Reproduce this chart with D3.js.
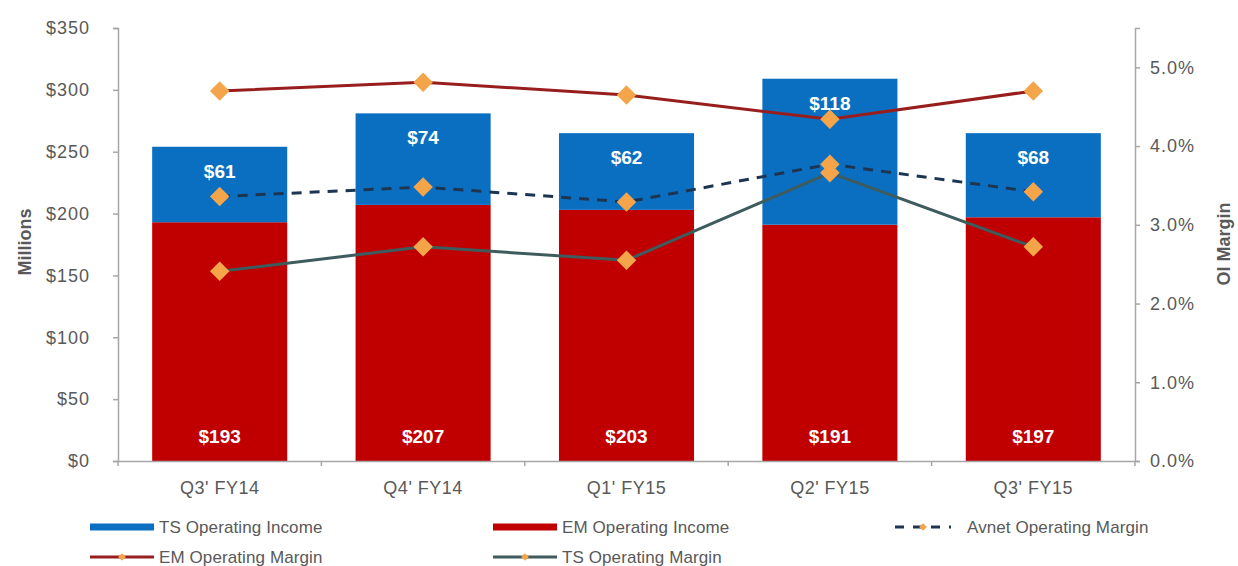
<!DOCTYPE html>
<html>
<head>
<meta charset="utf-8">
<script src="https://cdn.jsdelivr.net/npm/d3@7"></script>
<style>
body { margin: 0; background: #fff; }
text { font-family: Arial, "Liberation Sans", sans-serif; }
</style>
</head>
<body>
<div id="chart"></div>
<script>
var quarters = ["Q3' FY14", "Q4' FY14", "Q1' FY15", "Q2' FY15", "Q3' FY15"]
var emIncome = [193, 207, 203, 191, 197]
var tsIncome = [61, 74, 62, 118, 68]
var emMargin = [0.0470, 0.0481, 0.0465, 0.0434, 0.0470]
var avnetMargin = [0.0336, 0.0348, 0.0329, 0.0377, 0.0342]
var tsMargin = [0.0241, 0.0272, 0.0255, 0.0366, 0.0272]
var leftTicks = [0, 50, 100, 150, 200, 250, 300, 350]
var rightTicks = [0, 0.01, 0.02, 0.03, 0.04, 0.05]

var width = 1238, height = 566
var grey = "#595959"
var orange = "#f5a549"

var svg = d3.select("#chart").append("svg")
	.attr("width", width)
	.attr("height", height)

var x = d3.scaleBand()
	.domain(quarters)
	.range([118, 1135])
	.paddingInner(0.336)
	.paddingOuter(0.168)

var y = d3.scaleLinear().domain([0, 350]).range([461, 28])
var y2 = d3.scaleLinear().domain([0, 0.055]).range([461, 28])

// bars
var stacks = quarters.map(function(q, i){ return {q: q, em: emIncome[i], ts: tsIncome[i]} })

svg.append("g").selectAll("rect")
	.data(stacks).enter().append("rect")
	.attr("x", function(d){ return x(d.q) })
	.attr("width", x.bandwidth())
	.attr("y", function(d){ return y(d.em) })
	.attr("height", function(d){ return y(0) - y(d.em) })
	.attr("fill", "#c00000")

svg.append("g").selectAll("rect")
	.data(stacks).enter().append("rect")
	.attr("x", function(d){ return x(d.q) })
	.attr("width", x.bandwidth())
	.attr("y", function(d){ return y(d.em + d.ts) })
	.attr("height", function(d){ return y(d.em) - y(d.em + d.ts) })
	.attr("fill", "#0b6fc1")

// axes
var axisColor = "#a6a6a6"
var gl = svg.append("g").attr("transform", "translate(118,0)")
	.call(d3.axisLeft(y).tickValues(leftTicks).tickSize(5).tickPadding(23)
		.tickFormat(function(d){ return "$" + d }))
var gr = svg.append("g").attr("transform", "translate(1135,0)")
	.call(d3.axisRight(y2).tickValues(rightTicks).tickSize(5).tickPadding(10)
		.tickFormat(d3.format(".1%")))
var gb = svg.append("g").attr("transform", "translate(0,461)")
	.call(d3.axisBottom(x).tickSize(0).tickPadding(20))

gb.selectAll(".tick").append("line")
	.attr("x1", -x.step() / 2).attr("x2", -x.step() / 2)
	.attr("y1", 0).attr("y2", 5)
gb.append("line").attr("x1", 1135).attr("x2", 1135).attr("y1", 0).attr("y2", 5)

svg.selectAll(".domain").attr("stroke", axisColor).attr("stroke-width", 1.5)
svg.selectAll(".tick line").attr("stroke", axisColor).attr("stroke-width", 1.5)
gb.selectAll("line").attr("stroke", axisColor).attr("stroke-width", 1.5)
svg.selectAll(".tick text")
	.attr("fill", grey)
	.style("font-size", "18px")
	.style("letter-spacing", "1px")
	.style("font-family", "Arial, 'Liberation Sans', sans-serif")
gb.selectAll(".tick text").style("letter-spacing", "0.5px")

svg.append("text")
	.attr("transform", "translate(31,242) rotate(-90)")
	.attr("text-anchor", "middle")
	.attr("fill", grey)
	.style("font-size", "18px")
	.style("font-weight", "bold")
	.text("Millions")

svg.append("text")
	.attr("transform", "translate(1230,244) rotate(-90)")
	.attr("text-anchor", "middle")
	.attr("fill", grey)
	.style("font-size", "18px")
	.style("font-weight", "bold")
	.text("OI Margin")

// margin lines
var lines = [
	{name: "EM Operating Margin", values: emMargin, color: "#981e1e", dash: null},
	{name: "TS Operating Margin", values: tsMargin, color: "#3e5b5d", dash: null},
	{name: "Avnet Operating Margin", values: avnetMargin, color: "#1d3551", dash: "10,8"}
]

var line = d3.line()
	.x(function(d, i){ return x(quarters[i]) + x.bandwidth() / 2 })
	.y(function(d){ return y2(d) })

var diamond = d3.symbol().type(d3.symbolSquare).size(190)

lines.forEach(function(s){
	svg.append("path")
		.attr("d", line(s.values))
		.attr("fill", "none")
		.attr("stroke", s.color)
		.attr("stroke-width", 3)
		.attr("stroke-dasharray", s.dash)
})

lines.forEach(function(s){
	svg.append("g").selectAll("path")
		.data(s.values).enter().append("path")
		.attr("d", diamond)
		.attr("transform", function(d, i){
			return "translate(" + (x(quarters[i]) + x.bandwidth() / 2) + "," + y2(d) + ") rotate(45)"
		})
		.attr("fill", orange)
})

// bar labels
svg.append("g").selectAll("text")
	.data(stacks).enter().append("text")
	.attr("x", function(d){ return x(d.q) + x.bandwidth() / 2 })
	.attr("y", function(d){ return y(d.em + d.ts) + 31 })
	.attr("text-anchor", "middle")
	.attr("fill", "#fff")
	.style("font-size", "19px")
	.style("font-weight", "bold")
	.text(function(d){ return "$" + d.ts })

svg.append("g").selectAll("text")
	.data(stacks).enter().append("text")
	.attr("x", function(d){ return x(d.q) + x.bandwidth() / 2 })
	.attr("y", y(0) - 18)
	.attr("text-anchor", "middle")
	.attr("fill", "#fff")
	.style("font-size", "19px")
	.style("font-weight", "bold")
	.text(function(d){ return "$" + d.em })

// legend
var legendItems = [
	{name: "TS Operating Income", kind: "bar", color: "#0b6fc1", x: 90, y: 527},
	{name: "EM Operating Income", kind: "bar", color: "#c00000", x: 493, y: 527},
	{name: "Avnet Operating Margin", kind: "dash", color: "#1d3551", x: 895, y: 527},
	{name: "EM Operating Margin", kind: "line", color: "#981e1e", x: 90, y: 557},
	{name: "TS Operating Margin", kind: "line", color: "#3e5b5d", x: 493, y: 557}
]

var lg = svg.append("g").selectAll("g")
	.data(legendItems).enter().append("g")
	.attr("transform", function(d){ return "translate(" + d.x + "," + d.y + ")" })

lg.filter(function(d){ return d.kind == "bar" }).append("rect")
	.attr("x", 0).attr("y", -3.5).attr("width", 64).attr("height", 7)
	.attr("fill", function(d){ return d.color })

lg.filter(function(d){ return d.kind == "line" }).append("line")
	.attr("x1", 0).attr("x2", 64)
	.attr("stroke", function(d){ return d.color })
	.attr("stroke-width", 3)

lg.filter(function(d){ return d.kind == "dash" }).append("line")
	.attr("x1", 0).attr("x2", 56)
	.attr("stroke", function(d){ return d.color })
	.attr("stroke-width", 3)
	.attr("stroke-dasharray", "9,9")

lg.filter(function(d){ return d.kind != "bar" }).append("path")
	.attr("d", d3.symbol().type(d3.symbolSquare).size(30))
	.attr("transform", function(d){ return "translate(" + (d.kind == "dash" ? 28 : 32) + ",0) rotate(45)" })
	.attr("fill", orange)

lg.append("text")
	.attr("x", function(d){ return d.kind == "dash" ? 72 : 69 })
	.attr("y", 6)
	.attr("fill", grey)
	.style("font-family", "'Liberation Sans Narrow', 'Arial Narrow', Arial, sans-serif")
	.style("font-size", "17px")
	.style("letter-spacing", "0.1px")
	.text(function(d){ return d.name })
</script>
</body>
</html>
